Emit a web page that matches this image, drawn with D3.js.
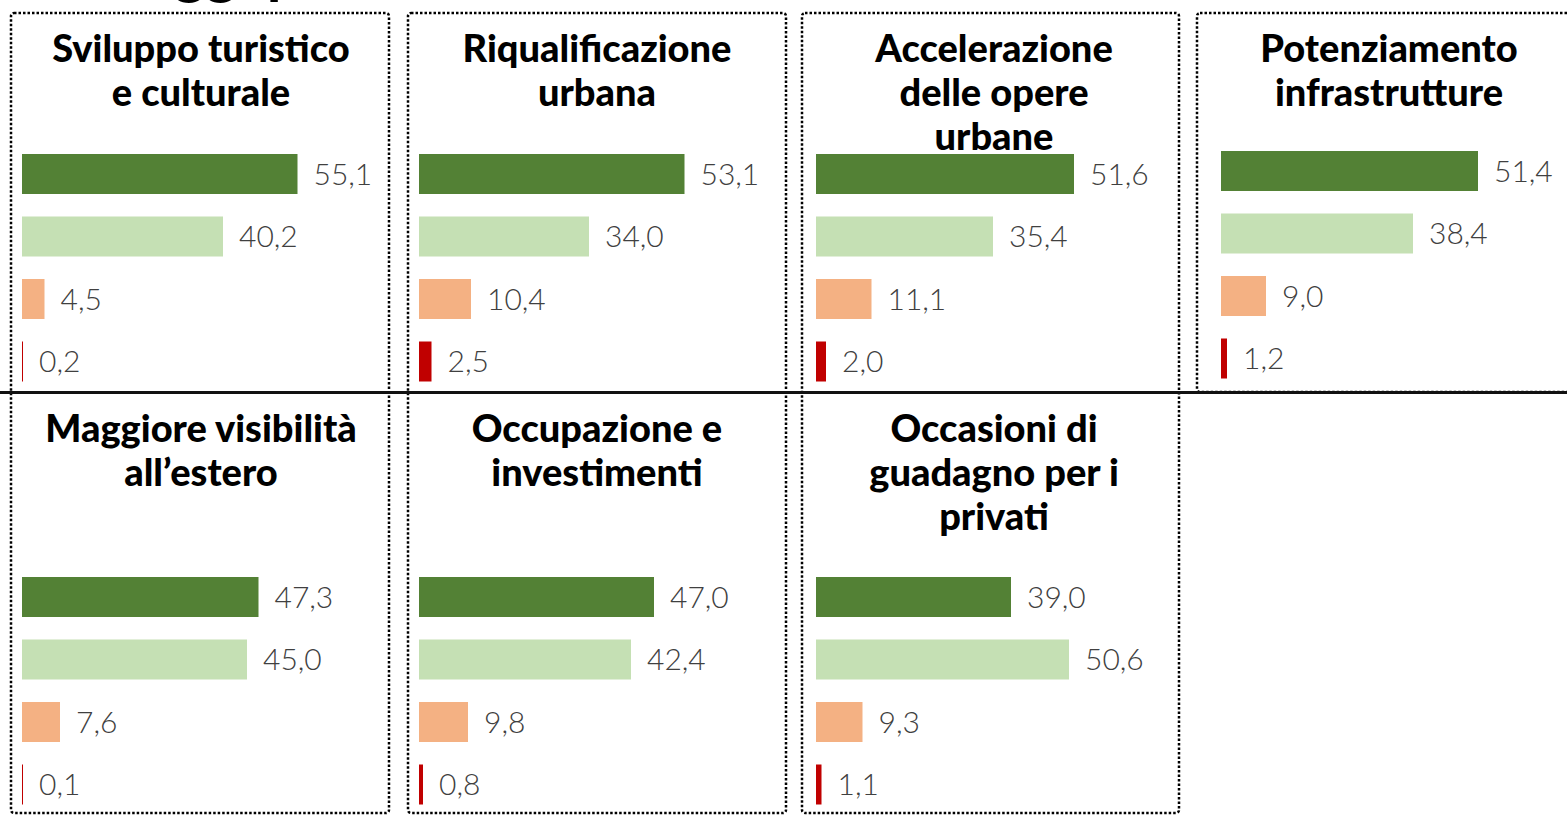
<!DOCTYPE html>
<html>
<head>
<meta charset="utf-8">
<script src="https://cdn.jsdelivr.net/npm/d3@7/dist/d3.min.js"></script>
<style>
  html, body { margin: 0; padding: 0; background: #fff; overflow: hidden; }
  .title { font-family: Lato, 'DejaVu Sans', sans-serif; font-weight: 900; font-size: 38px; fill: #000; }
  .value { font-family: Lato, 'DejaVu Sans', sans-serif; font-weight: 300; font-size: 30px; fill: #404040; }
</style>
</head>
<body>
<svg id="chart" width="1567" height="825"></svg>
<script>
// data
const categories = [
  ['Sviluppo turistico', 'e culturale'],
  ['Riqualificazione', 'urbana'],
  ['Accelerazione', 'delle opere', 'urbane'],
  ['Potenziamento', 'infrastrutture'],
  ['Maggiore visibilità', 'all’estero'],
  ['Occupazione e', 'investimenti'],
  ['Occasioni di', 'guadagno per i', 'privati'],
];
const seriesNames = ['Molto', 'Abbastanza', 'Poco', 'Per niente'];
const molto = [55.1, 53.1, 51.6, 51.4, 47.3, 47.0, 39.0];
const abbastanza = [40.2, 34.0, 35.4, 38.4, 45.0, 42.4, 50.6];
const poco = [4.5, 10.4, 11.1, 9.0, 7.6, 9.8, 9.3];
const perNiente = [0.2, 2.5, 2.0, 1.2, 0.1, 0.8, 1.1];
const seriesValues = [molto, abbastanza, poco, perNiente];

const colors = ['#538135', '#c5e0b4', '#f4b183', '#c00000'];

const svg = d3.select('#chart');

// panel layout
const colBox = [
  { x0: 11, x1: 389, barX: 22, cx: 201 },
  { x0: 408, x1: 786, barX: 419, cx: 597 },
  { x0: 802, x1: 1179, barX: 816, cx: 994 },
  { x0: 1197, x1: 1590, barX: 1221, cx: 1389 },
];
const rows = [
  { titleY: 62, barTop: 154 },
  { titleY: 442, barTop: 577 },
];
const lineH = 44;

const x = d3.scaleLinear().domain([0, 100]).range([0, 500]);
const fmt = d3.formatLocale({ decimal: ',', thousands: '.', grouping: [3], currency: ['€', ''] }).format('.1f');

// heading that sits mostly above the top edge
svg.append('text')
  .attr('x', 20)
  .attr('y', -8)
  .attr('class', 'title')
  .style('font-size', '60px')
  .style('font-weight', 700)
  .text('Vantaggi per la città');

// dotted boxes: first three columns span both rows, the fourth only the top one
colBox.forEach((c, i) => {
  const h = i < 3 ? 800 : 379;
  svg.append('rect')
    .attr('x', c.x0)
    .attr('y', 13)
    .attr('width', c.x1 - c.x0)
    .attr('height', h)
    .attr('rx', 3)
    .attr('fill', 'none')
    .attr('stroke', '#000')
    .attr('stroke-width', 2.5)
    .attr('stroke-dasharray', '2.5 2');
});

// horizontal separator
svg.append('line')
  .attr('x1', 0)
  .attr('x2', 1567)
  .attr('y1', 392.5)
  .attr('y2', 392.5)
  .attr('stroke', '#111')
  .attr('stroke-width', 3);

categories.forEach((lines, k) => {
  const col = colBox[k % 4];
  const row = rows[Math.floor(k / 4)];
  const yOff = k === 3 ? -3 : 0;

  const y = d3.scaleBand()
    .domain(d3.range(seriesNames.length))
    .range([row.barTop + yOff, row.barTop + yOff + 3 * 62.5 + 40])
    .paddingInner(0.36)
    .paddingOuter(0);

  const g = svg.append('g').attr('transform', `translate(${col.barX},0)`);

  const vals = seriesValues.map((s, i) => ({ i, v: s[k] }));

  g.selectAll('rect.bar')
    .data(vals)
    .join('rect')
    .attr('class', 'bar')
    .attr('x', 0)
    .attr('y', (d) => y(d.i))
    .attr('width', (d) => Math.max(1, x(d.v)))
    .attr('height', y.bandwidth())
    .attr('fill', (d) => colors[d.i]);

  g.selectAll('text.value')
    .data(vals)
    .join('text')
    .attr('class', 'value')
    .attr('x', (d) => Math.max(1, x(d.v)) + 16)
    .attr('y', (d) => y(d.i) + y.bandwidth() / 2)
    .attr('dy', '0.36em')
    .text((d) => fmt(d.v));

  const t = svg.append('text')
    .attr('class', 'title')
    .attr('text-anchor', 'middle');
  lines.forEach((ln, j) => {
    t.append('tspan')
      .attr('x', col.cx)
      .attr('y', row.titleY + j * lineH)
      .text(ln);
  });
});
</script>
</body>
</html>
